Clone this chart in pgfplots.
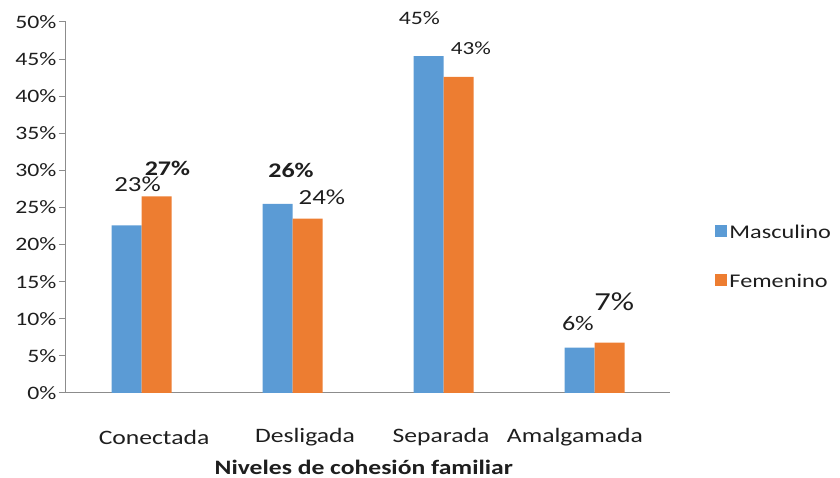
\documentclass[border=0pt]{standalone}
\usepackage{pgfplots}
\pgfplotsset{compat=1.18}
\usepackage{fontspec}
\setmainfont{Carlito}[FakeStretch=1.25]
\definecolor{cblue}{HTML}{5B9BD5}
\definecolor{corange}{HTML}{ED7D31}
\definecolor{axgray}{HTML}{8C8C8C}
\definecolor{txt}{HTML}{1E1E1E}
\begin{document}
\begin{tikzpicture}
\begin{axis}[
  name=ax, scale only axis, width=604pt, height=371pt,
  xmin=-0.5, xmax=3.5, ymin=0, ymax=50,
  ybar=0pt, bar width=30pt,
  axis x line*=bottom, axis y line*=left,
  axis line style={axgray, line width=1pt},
  xtick={0.083,1.083,1.983,2.87},
  xticklabels={Conectada,Desligada,Separada,Amalgamada},
  x tick style={draw=none},
  ytick={0,5,...,50},
  yticklabels={0\%,5\%,10\%,15\%,20\%,25\%,30\%,35\%,40\%,45\%,50\%},
  tick align=outside, major tick length=7pt,
  y tick style={axgray, line width=1pt},
  yticklabel style={font=\fontsize{19}{19}\selectfont, text=txt, xshift=1pt},
  xticklabel style={font=\fontsize{20.5}{20.5}\selectfont, text=txt, anchor=center, yshift=-37pt},
  xlabel={\bfseries Niveles de cohesión familiar},
  xlabel style={font=\fontsize{20.5}{20.5}\selectfont, text=txt, at={(axis description cs:0.493,0)}, anchor=center, yshift=-74pt},
  clip=false,
  legend style={at={(1.07,0.367)}, anchor=west, draw=none, fill=none,
    font=\fontsize{19.4}{19.4}\selectfont, text=txt, row sep=30pt,
    legend cell align=left},
  legend image code/.code={\fill[#1,draw=none] (0pt,-5pt) rectangle (12pt,7pt);},
]
\addplot[fill=cblue, draw=none] coordinates {(0,22.6) (1,25.5) (2,45.4) (3,6.1)};
\addplot[fill=corange, draw=none] coordinates {(0,26.5) (1,23.5) (2,42.6) (3,6.8)};
\legend{Masculino,Femenino}
\node[text=txt, font=\fontsize{21.5}{21.5}\selectfont] at (axis cs:-0.026,28.1) {23\%};
\node[text=txt, font=\bfseries\fontsize{20.8}{20.8}\selectfont] at (axis cs:0.172,30.2) {27\%};
\node[text=txt, font=\bfseries\fontsize{20.8}{20.8}\selectfont] at (axis cs:0.99,30.0) {26\%};
\node[text=txt, font=\fontsize{21.5}{21.5}\selectfont] at (axis cs:1.195,26.4) {24\%};
\node[text=txt, font=\fontsize{19}{19}\selectfont] at (axis cs:1.84,50.5) {45\%};
\node[text=txt, font=\fontsize{18.5}{18.5}\selectfont] at (axis cs:2.182,46.4) {43\%};
\node[text=txt, font=\fontsize{20.8}{20.8}\selectfont] at (axis cs:2.89,9.4) {6\%};
\node[text=txt, font=\fontsize{26}{26}\selectfont] at (axis cs:3.13,12.3) {7\%};
\end{axis}
\pgfresetboundingbox
\path (ax.south west) ++(-66pt,-85pt) rectangle ++(840pt,478pt);
\end{tikzpicture}
\end{document}
